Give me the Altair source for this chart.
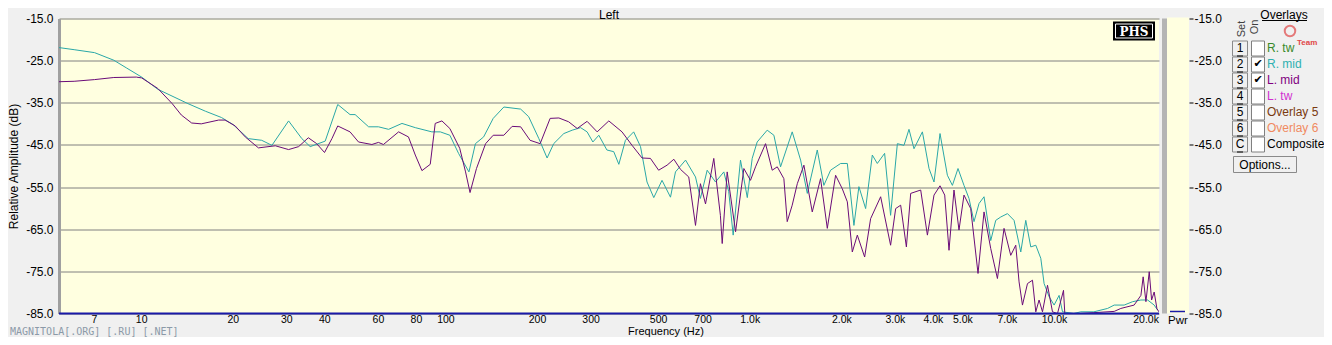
import altair as alt
import pandas as pd

FONT = "Liberation Sans"

# ---------------- data ----------------
rmid_freq = [5.35, 6.0, 7.0, 8.1, 8.9, 10, 11.3, 14.2, 16.2, 18.3, 20, 22.4, 24.8, 26.8, 30.4, 33.6, 35.8,
             40.1, 44.1, 48.4, 50.3, 55.7, 60, 64.8, 71.7, 79.3, 89.9, 95.8, 103, 110, 119, 125, 133, 143,
             155, 176, 187, 202, 215, 226, 244, 260, 277, 291, 304, 318, 338, 356, 370, 389, 414, 436, 458,
             482, 513, 547, 568, 613, 661, 686, 722, 769, 819, 850, 879, 929, 978, 1015, 1054, 1137, 1196,
             1258, 1374, 1464, 1540, 1661, 1746, 1837, 1982, 2085, 2192, 2276, 2395, 2519, 2616, 2765, 2893,
             3045, 3201, 3325, 3453, 3680, 3869, 4018, 4205, 4446, 4618, 4818, 5041, 5236, 5438, 5649, 5866,
             6172, 6410, 6658, 7004, 7363, 7747, 8046, 8356, 8679, 9014, 9243, 9599, 9970, 10354, 10624,
             11570, 12200, 13470, 14940, 15710, 16940, 18060, 19230, 20230, 21260, 21820]
rmid_db = [-21.9, -22.4, -23.1, -24.9, -26.7, -28.9, -31.8, -35.2, -37.0, -38.5, -40.2, -43.5, -43.9, -45.1,
           -39.3, -43.5, -45.4, -44.1, -35.4, -37.8, -37.8, -40.7, -40.7, -41.3, -39.9, -40.9, -41.9, -41.9,
           -42.7, -47.0, -51.4, -44.7, -43.1, -38.7, -36.0, -36.5, -38.3, -43.5, -48.1, -44.7, -42.3, -41.5,
           -40.9, -41.9, -44.3, -42.7, -46.2, -46.6, -49.6, -43.9, -41.9, -45.4, -53.8, -57.5, -53.4, -57.4,
           -51.4, -48.6, -52.6, -57.7, -51.0, -53.8, -51.4, -56.1, -66.4, -48.6, -57.5, -48.2, -44.3, -41.5,
           -42.7, -50.2, -41.9, -48.6, -56.5, -46.2, -54.6, -51.0, -49.4, -49.4, -64.1, -54.9, -60.1, -47.4,
           -49.4, -47.0, -61.7, -44.7, -45.1, -41.3, -45.9, -41.9, -50.6, -53.8, -42.3, -52.2, -54.6, -50.6,
           -54.6, -57.7, -63.2, -58.9, -57.3, -67.7, -62.9, -62.1, -61.3, -62.9, -70.4, -62.9, -69.2, -68.8,
           -71.9, -77.9, -81.0, -83.0, -80.7, -84.6, -85.0, -84.6, -84.6, -83.8, -83.0, -83.0, -82.2, -81.8,
           -81.8, -83.0, -84.2]

lmid_freq = [5.35, 6.0, 7.0, 8.1, 9.6, 10, 11.3, 12.6, 13.5, 14.6, 15.7, 17.9, 18.8, 20.3, 21.9, 24.2, 27.5,
             30.4, 32.8, 35.3, 37.6, 39.9, 42.2, 44.1, 48.4, 51.6, 57.1, 60, 62.3, 69.9, 75.3, 79.3, 83.4,
             88.8, 92.2, 97, 103, 111, 116, 120, 126, 135, 143, 155, 165, 176, 189, 204, 220, 235, 253, 270,
             291, 314, 343, 379, 409, 441, 470, 500, 533, 561, 590, 628, 661, 686, 713, 759, 798, 809, 840,
             895, 953, 1002, 1041, 1123, 1181, 1227, 1290, 1323, 1374, 1428, 1501, 1599, 1703, 1792, 1908,
             2007, 2085, 2165, 2249, 2377, 2487, 2683, 2893, 3006, 3122, 3260, 3368, 3633, 3822, 4018, 4205,
             4357, 4501, 4674, 4854, 5041, 5304, 5606, 5866, 6172, 6493, 6826, 7181, 7459, 7648, 7847, 8150,
             8464, 8679, 8898, 9131, 9484, 9849, 10230, 10705, 10810, 12200, 13470, 15710, 16520, 18270,
             19230, 19560, 19970, 20480, 20850, 21260, 21700, 22030]
lmid_db = [-30.0, -29.9, -29.5, -29.0, -28.9, -29.1, -31.6, -35.2, -37.9, -39.8, -40.0, -39.1, -39.1, -40.5,
           -43.1, -45.7, -45.2, -46.1, -45.4, -43.3, -44.7, -46.8, -43.5, -40.5, -41.9, -44.3, -44.9, -44.4,
           -44.9, -41.9, -43.1, -47.4, -51.1, -49.6, -39.9, -39.3, -41.1, -45.8, -51.4, -56.3, -50.6, -44.7,
           -42.7, -42.7, -40.6, -40.7, -43.9, -44.7, -38.7, -38.6, -39.5, -41.1, -39.4, -41.9, -39.3, -41.9,
           -45.1, -48.1, -48.2, -51.0, -49.8, -48.4, -50.8, -52.6, -64.1, -54.2, -59.0, -48.2, -61.7, -68.4,
           -51.4, -65.6, -50.6, -53.4, -50.2, -44.7, -51.0, -50.2, -53.0, -63.2, -59.3, -54.2, -49.8, -60.9,
           -53.0, -64.8, -52.2, -55.4, -58.5, -70.4, -66.4, -71.6, -62.5, -57.3, -68.8, -60.1, -59.3, -69.2,
           -56.5, -55.7, -66.4, -56.9, -54.7, -56.9, -70.0, -55.7, -65.2, -56.9, -60.1, -75.5, -60.9, -69.6,
           -76.7, -64.8, -71.2, -68.8, -77.5, -83.0, -77.9, -77.1, -84.6, -81.8, -84.6, -78.3, -84.6, -85.0,
           -79.5, -85.0, -85.0, -84.8, -84.5, -83.8, -83.0, -80.7, -76.3, -82.2, -75.1, -81.8, -79.9, -83.8,
           -84.6]

x_grid = [6, 7, 8, 9, 10, 20, 30, 40, 50, 60, 70, 80, 90, 100, 200, 300, 400, 500, 600, 700, 800, 900,
          1000, 2000, 3000, 4000, 5000, 6000, 7000, 8000, 9000, 10000, 20000]
x_label_vals = [7, 10, 20, 30, 40, 60, 80, 100, 200, 300, 500, 700, 1000, 2000, 3000, 4000, 5000, 7000,
                10000, 20000]
x_label_text = ["7", "10", "20", "30", "40", "60", "80", "100", "200", "300", "500", "700", "1.0k", "2.0k",
                "3.0k", "4.0k", "5.0k", "7.0k", "10.0k", "20.0k"]
y_ticks = [-15, -25, -35, -45, -55, -65, -75, -85]

ov_keys = ["1", "2", "3", "4", "5", "6", "C"]
ov_names = ["R. tw", "R. mid", "L. mid", "L. tw", "Overlay 5", "Overlay 6", "Composite"]
ov_colors = ["#3A8A2A", "#2FB0B0", "#800080", "#D030D0", "#7A3A10", "#F08A60", "#000000"]
ov_on = [False, True, True, False, False, False, False]

TEAL = "#2AA7A7"
PURPLE = "#6A0C78"
BLUE = "#1A1AA8"

W, H = 1100, 295

x_scale = alt.Scale(type="log", domain=[5.35, 22050], nice=False)
y_scale = alt.Scale(domain=[-85, -15], nice=False)

x_axis = alt.Axis(orient="bottom", values=x_grid, labels=False, title=None, grid=True, gridColor="#808080",
                  gridWidth=1, gridOpacity=1, domain=False, tickColor="#505050", tickSize=2)

y_axis = alt.Axis(orient="left", values=y_ticks, labelExpr="'-' + format(-datum.value, '.1f')", grid=True,
                  gridColor="#808080", gridWidth=1, gridOpacity=1, domainColor="#A0A0A0", domainWidth=3,
                  tickSize=0, labelPadding=6, labelFont=FONT, labelFontSize=12, labelColor="#000000",
                  title="Relative Amplitude (dB)", titleFont=FONT, titleFontSize=12, titleFontWeight="normal",
                  titleColor="#000000", titleX=-46, titleY=H / 2, titleAngle=-90, titleAlign="center",
                  titleBaseline="middle")

df_r = pd.DataFrame({"f": rmid_freq, "db": rmid_db})
df_l = pd.DataFrame({"f": lmid_freq, "db": lmid_db})

teal = alt.Chart(df_r).mark_line(color=TEAL, strokeWidth=1, clip=True).encode(
    x=alt.X("f:Q", scale=x_scale, axis=x_axis),
    y=alt.Y("db:Q", scale=y_scale, axis=y_axis),
)
purple = alt.Chart(df_l).mark_line(color=PURPLE, strokeWidth=1, clip=True).encode(
    x=alt.X("f:Q", scale=x_scale, axis=None),
    y=alt.Y("db:Q", scale=y_scale, axis=None),
)

# x tick labels placed through the x scale
x_lbl = alt.Chart(pd.DataFrame({"f": x_label_vals, "t": x_label_text})).mark_text(
    font=FONT, fontSize=10.5, color="#000000", align="center", baseline="top").encode(
    x=alt.X("f:Q", scale=x_scale, axis=None), y=alt.value(H + 1), text="t:N")

# blue base trace at -85 dB
base_line = alt.Chart(pd.DataFrame({"v": [-85]})).mark_rule(color=BLUE, strokeWidth=2).encode(
    x=alt.value(0), x2=alt.value(W), y=alt.Y("v:Q", scale=y_scale, axis=None))

# right-hand dB axis (next to the Pwr strip)
right_axis = alt.Chart(pd.DataFrame({"v": y_ticks})).mark_point(opacity=0).encode(
    x=alt.value(0),
    y=alt.Y("v:Q", scale=y_scale,
            axis=alt.Axis(orient="right", offset=30, values=y_ticks, labelExpr="'-' + format(-datum.value, '.1f')",
                          grid=False, domain=False, tickColor="#000000", tickSize=4, labelPadding=1,
                          labelFont=FONT, labelFontSize=12, labelColor="#000000", title=None)),
)

one = pd.DataFrame({"t": [""]})


def label(txt, x, y, size=12, color="#000000", align="center", baseline="middle", font=FONT, **kw):
    return alt.Chart(pd.DataFrame({"t": [txt]})).mark_text(
        font=font, fontSize=size, color=color, align=align, baseline=baseline, **kw).encode(
        x=alt.value(x), y=alt.value(y), text="t:N")


title_left = label("Left", W / 2, -4)
x_title = label("Frequency (Hz)", 607, H + 21, size=11, baseline="alphabetic")

# Pwr strip + separator bar
sep_bar = alt.Chart(one).mark_rect(color="#B4B4B4").encode(
    x=alt.value(W + 3), x2=alt.value(W + 8), y=alt.value(0), y2=alt.value(H))
pwr_strip = alt.Chart(one).mark_rect(color="#FFFFE0").encode(
    x=alt.value(W + 8), x2=alt.value(W + 30), y=alt.value(-1), y2=alt.value(H))
pwr_line = alt.Chart(one).mark_rule(color=BLUE, strokeWidth=1.5).encode(
    x=alt.value(W + 11), x2=alt.value(W + 26), y=alt.value(H - 2))
pwr_text = label("Pwr", W + 19, H + 1, size=11.5, baseline="top")

# PHS badge
phs_box = alt.Chart(one).mark_rect(color="#000000").encode(
    x=alt.value(1054), x2=alt.value(1096), y=alt.value(3), y2=alt.value(22))
phs_inner = alt.Chart(one).mark_rect(fill="#000000", stroke="#FFFFFF", strokeWidth=1).encode(
    x=alt.value(1056.5), x2=alt.value(1093.5), y=alt.value(5.5), y2=alt.value(19.5))
phs_text = label("PHS", 1075, 13, color="#FFFFFF", font="DejaVu Serif", fontWeight="bold")

# watermark
wm = label("MAGNITOLA[.ORG] [.RU] [.NET]", -49, H + 21, size=10, color="#8C9AA8", align="left",
           baseline="alphabetic", font="DejaVu Sans Mono")

# overlays panel
ov = pd.DataFrame({"key": ov_keys, "name": ov_names, "col": ov_colors, "on": ov_on,
                   "idx": list(range(len(ov_keys)))})
ov_base = alt.Chart(ov).transform_calculate(
    py="29.5 + 16 * datum.idx", py0="22.5 + 16 * datum.idx", py1="37.5 + 16 * datum.idx")

btn = ov_base.mark_rect(fill="#F0F0F0", stroke="#8A8A8A", strokeWidth=1).encode(
    x=alt.value(1173.5), x2=alt.value(1188.5),
    y=alt.Y("py0:Q", scale=None, axis=None), y2="py1:Q")
btn_txt = ov_base.mark_text(font=FONT, fontSize=12, color="#000000", align="center",
                            baseline="middle").encode(
    x=alt.value(1181), y=alt.Y("py:Q", scale=None, axis=None), text="key:N")
btn_ul = ov_base.mark_rule(color="#000000", strokeWidth=1).encode(
    x=alt.value(1178), x2=alt.value(1184), y=alt.Y("py1:Q", scale=None, axis=None))
chk = ov_base.mark_rect(fill="#FFFFFF", stroke="#808080", strokeWidth=1).encode(
    x=alt.value(1192.5), x2=alt.value(1205.5),
    y=alt.Y("py0:Q", scale=None, axis=None), y2="py1:Q")
chk_mark = ov_base.transform_filter("datum.on").mark_text(
    font="DejaVu Sans", fontSize=11, fontWeight="bold", color="#000000", align="center",
    baseline="middle").encode(x=alt.value(1199), y=alt.Y("py:Q", scale=None, axis=None),
                              text=alt.value("✔"))
ov_lbl = ov_base.mark_text(font=FONT, fontSize=12, align="left", baseline="middle").encode(
    x=alt.value(1208), y=alt.Y("py:Q", scale=None, axis=None), text="name:N",
    color=alt.Color("col:N", scale=None, legend=None))

ov_title = label("Overlays", 1225, -4)
ov_title_ul = alt.Chart(one).mark_rule(color="#000000", strokeWidth=1).encode(
    x=alt.value(1203), x2=alt.value(1248), y=alt.value(2))
set_txt = label("Set", 1183, 10.5, size=11, color="#404040", angle=270)
on_txt = label("On", 1196, 8.5, size=11, color="#404040", angle=270)
logo_ring = alt.Chart(one).mark_point(shape="circle", size=110, stroke="#E04848", strokeWidth=2,
                                      filled=False).encode(x=alt.value(1231), y=alt.value(12.5))
logo_team = label("Team", 1238, 24.5, size=8, color="#E04848", align="left", fontWeight="bold")

opt_btn = alt.Chart(one).mark_rect(fill="#F0F0F0", stroke="#8A8A8A", strokeWidth=1).encode(
    x=alt.value(1174.5), x2=alt.value(1237.5), y=alt.value(138), y2=alt.value(154))
opt_txt = label("Options...", 1206, 146)

chart = alt.layer(
    teal, purple, base_line, x_lbl, right_axis,
    sep_bar, pwr_strip, pwr_line, pwr_text,
    phs_box, phs_inner, phs_text, wm, title_left, x_title,
    logo_ring, logo_team, ov_title, ov_title_ul, set_txt, on_txt,
    btn, btn_txt, btn_ul, chk, chk_mark, ov_lbl, opt_btn, opt_txt,
).resolve_axis(y="independent").properties(
    width=W, height=H,
    autosize=alt.AutoSizeParams(type="none"),
    padding={"left": 51, "top": 10.5, "right": 165, "bottom": 23.5},
    background="#F0F0F0",
).configure_view(fill="#FFFFE0", strokeWidth=0)

chart.save("out.html", embed_options={"renderer": "svg", "actions": False})
